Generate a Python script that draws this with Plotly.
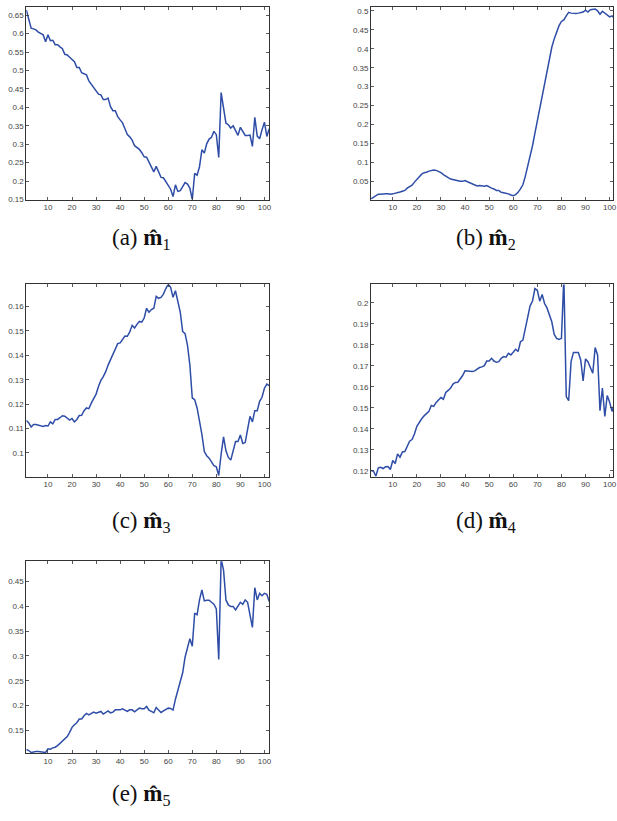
import plotly.graph_objects as go

# ---------------- data ----------------
x_index = list(range(1, 103))

m1 = [0.664, 0.637, 0.615, 0.613, 0.61, 0.604, 0.6, 0.597, 0.578, 0.597,
      0.581, 0.582, 0.57, 0.57, 0.564, 0.559, 0.544, 0.542, 0.536, 0.53,
      0.524, 0.508, 0.508, 0.494, 0.492, 0.488, 0.472, 0.463, 0.456, 0.447,
      0.436, 0.434, 0.421, 0.421, 0.425, 0.402, 0.391, 0.391, 0.375, 0.366,
      0.358, 0.342, 0.326, 0.32, 0.311, 0.296, 0.291, 0.286, 0.277, 0.266,
      0.265, 0.25, 0.24, 0.225, 0.24, 0.223, 0.21, 0.209, 0.199, 0.19,
      0.178, 0.158, 0.19, 0.172, 0.174, 0.185, 0.196, 0.192, 0.181, 0.15,
      0.221, 0.216, 0.239, 0.285, 0.276, 0.301, 0.314, 0.319, 0.335, 0.326,
      0.264, 0.44, 0.4, 0.357, 0.353, 0.344, 0.35, 0.339, 0.324, 0.346,
      0.333, 0.324, 0.324, 0.325, 0.294, 0.373, 0.322, 0.315, 0.339, 0.36,
      0.321, 0.342]

m2 = [0.004, 0.008, 0.011, 0.016, 0.016, 0.017, 0.017, 0.017, 0.016, 0.017,
      0.018, 0.021, 0.022, 0.024, 0.026, 0.032, 0.037, 0.04, 0.048, 0.056,
      0.063, 0.069, 0.073, 0.074, 0.077, 0.079, 0.08, 0.079, 0.077, 0.073,
      0.068, 0.065, 0.06, 0.056, 0.054, 0.053, 0.051, 0.05, 0.05, 0.052,
      0.049, 0.046, 0.044, 0.04, 0.038, 0.039, 0.038, 0.037, 0.039, 0.035,
      0.032, 0.03, 0.026, 0.026, 0.021, 0.02, 0.019, 0.017, 0.014, 0.012,
      0.015, 0.021, 0.03, 0.041, 0.063, 0.089, 0.116, 0.144, 0.177, 0.21,
      0.24, 0.273, 0.312, 0.347, 0.378, 0.404, 0.426, 0.446, 0.461, 0.472,
      0.476, 0.487, 0.496, 0.494, 0.493, 0.493, 0.494, 0.495, 0.497, 0.502,
      0.497, 0.503, 0.504, 0.505, 0.5, 0.491, 0.499, 0.494, 0.491, 0.484,
      0.487, 0.48]

m3 = [0.1133, 0.1123, 0.1106, 0.1116, 0.1116, 0.1114, 0.1111, 0.1108, 0.1112, 0.111,
      0.1127, 0.1119, 0.1137, 0.1137, 0.1144, 0.1152, 0.115, 0.1141, 0.1134, 0.1141,
      0.1127, 0.1137, 0.1153, 0.1154, 0.1173, 0.1184, 0.1181, 0.1204, 0.1225, 0.1241,
      0.1272, 0.1297, 0.1313, 0.1333, 0.136, 0.1383, 0.1401, 0.1425, 0.1448, 0.1451,
      0.1465, 0.1479, 0.1478, 0.1496, 0.1523, 0.1512, 0.1527, 0.1539, 0.1536, 0.1553,
      0.1593, 0.1577, 0.1588, 0.1593, 0.1642, 0.1634, 0.1638, 0.1651, 0.1674, 0.1692,
      0.1679, 0.1638, 0.1665, 0.1624, 0.1577, 0.1498, 0.1489, 0.1442, 0.136, 0.1225,
      0.1218, 0.1184, 0.113, 0.1076, 0.1005, 0.0988, 0.0978, 0.0961, 0.0947, 0.0943,
      0.0907, 0.0995, 0.1065, 0.1008, 0.0981, 0.097, 0.1011, 0.1046, 0.1046, 0.1073,
      0.1038, 0.1042, 0.1096, 0.115, 0.1127, 0.1173, 0.1173, 0.1211, 0.1228, 0.1265,
      0.1282, 0.1276]

m4 = [0.1202, 0.1198, 0.1175, 0.1214, 0.1217, 0.1211, 0.1219, 0.122, 0.1206, 0.1249,
      0.1235, 0.1281, 0.1265, 0.129, 0.1292, 0.1317, 0.1341, 0.1349, 0.1375, 0.1412,
      0.1432, 0.1448, 0.1462, 0.1472, 0.1483, 0.1511, 0.1507, 0.1526, 0.154, 0.1549,
      0.1541, 0.1573, 0.1583, 0.1594, 0.1613, 0.1621, 0.1622, 0.1636, 0.1654, 0.1677,
      0.1676, 0.1673, 0.1673, 0.1676, 0.1684, 0.1692, 0.1695, 0.1701, 0.1723, 0.1723,
      0.1736, 0.1723, 0.1717, 0.172, 0.1736, 0.1744, 0.1741, 0.176, 0.1752, 0.1768,
      0.1779, 0.1768, 0.1815, 0.1823, 0.1878, 0.1941, 0.1986, 0.2009, 0.2068, 0.206,
      0.2008, 0.204, 0.1997, 0.1976, 0.1945, 0.191, 0.185, 0.1831, 0.1826, 0.1831,
      0.212, 0.1554, 0.1534, 0.172, 0.1764, 0.1764, 0.1764, 0.1728, 0.1628, 0.1733,
      0.172, 0.1692, 0.1665, 0.1787, 0.1752, 0.1486, 0.1594, 0.1459, 0.1559, 0.1527,
      0.1483, 0.152]

m5 = [0.1113, 0.1093, 0.1053, 0.1067, 0.1073, 0.1073, 0.1067, 0.1073, 0.1053, 0.1127,
      0.112, 0.1147, 0.116, 0.1193, 0.124, 0.128, 0.132, 0.1373, 0.146, 0.156,
      0.1613, 0.1653, 0.1727, 0.1727, 0.1793, 0.184, 0.1813, 0.184, 0.1867, 0.1847,
      0.186, 0.188, 0.1827, 0.186, 0.1893, 0.1853, 0.1867, 0.1913, 0.1907, 0.1913,
      0.1933, 0.1907, 0.188, 0.1913, 0.1913, 0.1873, 0.1913, 0.1947, 0.1933, 0.1933,
      0.198, 0.1907, 0.188, 0.1853, 0.196, 0.1907, 0.186, 0.1893, 0.192, 0.1947,
      0.194, 0.1907, 0.2127, 0.2293, 0.2493, 0.266, 0.2973, 0.3193, 0.3347, 0.3193,
      0.386, 0.3827, 0.4127, 0.4327, 0.4107, 0.412, 0.412, 0.408, 0.404, 0.3947,
      0.2927, 0.495, 0.4727, 0.4127, 0.4027, 0.3993, 0.3993, 0.3927, 0.3993, 0.408,
      0.404, 0.4127, 0.408, 0.3827, 0.3573, 0.4373, 0.4127, 0.426, 0.4213, 0.426,
      0.424, 0.4093]

x_ticks = [10, 20, 30, 40, 50, 60, 70, 80, 90, 100]
y_ticks_a = [0.15, 0.2, 0.25, 0.3, 0.35, 0.4, 0.45, 0.5, 0.55, 0.6, 0.65]
y_ticks_b = [0.05, 0.1, 0.15, 0.2, 0.25, 0.3, 0.35, 0.4, 0.45, 0.5]
y_ticks_c = [0.1, 0.11, 0.12, 0.13, 0.14, 0.15, 0.16]
y_ticks_d = [0.12, 0.13, 0.14, 0.15, 0.16, 0.17, 0.18, 0.19, 0.2]
y_ticks_e = [0.15, 0.2, 0.25, 0.3, 0.35, 0.4, 0.45]

captions = ["(a) <b>m̂</b><sub>1</sub>", "(b) <b>m̂</b><sub>2</sub>",
            "(c) <b>m̂</b><sub>3</sub>", "(d) <b>m̂</b><sub>4</sub>",
            "(e) <b>m̂</b><sub>5</sub>"]

# ---------------- layout geometry ----------------
W, H = 617, 821
LINE_COLOR = "#2E4DA7"


def px_x(a, b):
    return [a / W, min(b / W, 1.0)]


def px_y(top, bottom):
    return [1 - bottom / H, 1 - top / H]


panels = [
    dict(y=m1, xd=px_x(26.5, 271), yd=px_y(6.5, 200), xr=[1, 102], yr=[0.15, 0.671],
         yt=y_ticks_a, cap=(142, 240)),
    dict(y=m2, xd=px_x(373.5, 617), yd=px_y(6.5, 200), xr=[1, 101.4], yr=[0.002, 0.509],
         yt=y_ticks_b, cap=(489, 240)),
    dict(y=m3, xd=px_x(26.5, 271), yd=px_y(285.5, 479.2), xr=[1, 102], yr=[0.0902, 0.1691],
         yt=y_ticks_c, cap=(142, 525)),
    dict(y=m4, xd=px_x(373.5, 617), yd=px_y(285.5, 479.2), xr=[1, 101.4], yr=[0.1172, 0.2088],
         yt=y_ticks_d, cap=(489, 525)),
    dict(y=m5, xd=px_x(26.5, 271), yd=px_y(564.3, 757.7), xr=[1, 102], yr=[0.104, 0.4908],
         yt=y_ticks_e, cap=(142, 800)),
]

fig = go.Figure()
layout = dict(
    width=W, height=H,
    margin=dict(l=0, r=0, t=0, b=0),
    paper_bgcolor="white", plot_bgcolor="white",
    showlegend=False,
    annotations=[],
)

tick_font = dict(family='"Liberation Sans", Arial, sans-serif', size=8, color="#444444")

for k, p in enumerate(panels, start=1):
    sfx = "" if k == 1 else str(k)
    fig.add_trace(go.Scatter(
        x=x_index, y=p["y"], mode="lines",
        line=dict(color=LINE_COLOR, width=1.5),
        xaxis="x" + sfx, yaxis="y" + sfx, hoverinfo="skip",
    ))
    common = dict(showline=True, linecolor="#333333", linewidth=1, mirror="allticks",
                  ticks="inside", ticklen=3, tickwidth=0.8, tickcolor="#333333",
                  showgrid=False, zeroline=False, tickfont=tick_font, fixedrange=True,
                  ticklabeloverflow="allow")
    layout["xaxis" + sfx] = dict(domain=p["xd"], range=p["xr"], anchor="y" + sfx,
                                 tickmode="array", tickvals=x_ticks,
                                 ticktext=[str(v) for v in x_ticks], **common)
    layout["yaxis" + sfx] = dict(domain=p["yd"], range=p["yr"], anchor="x" + sfx,
                                 tickmode="array", tickvals=p["yt"],
                                 ticktext=[("%g" % v) for v in p["yt"]], **common)
    layout["annotations"].append(dict(
        text=captions[k - 1], xref="paper", yref="paper",
        x=p["cap"][0] / W, y=1 - p["cap"][1] / H, xanchor="center", yanchor="middle",
        showarrow=False,
        font=dict(family='"Liberation Serif", "Times New Roman", serif', size=23,
                  color="#111111"),
    ))

fig.update_layout(**layout)
fig.write_html("out.html",
               config={"displayModeBar": False, "staticPlot": True},
               post_script="document.body.style.margin='0';"
                           "document.body.style.overflow='hidden';")
